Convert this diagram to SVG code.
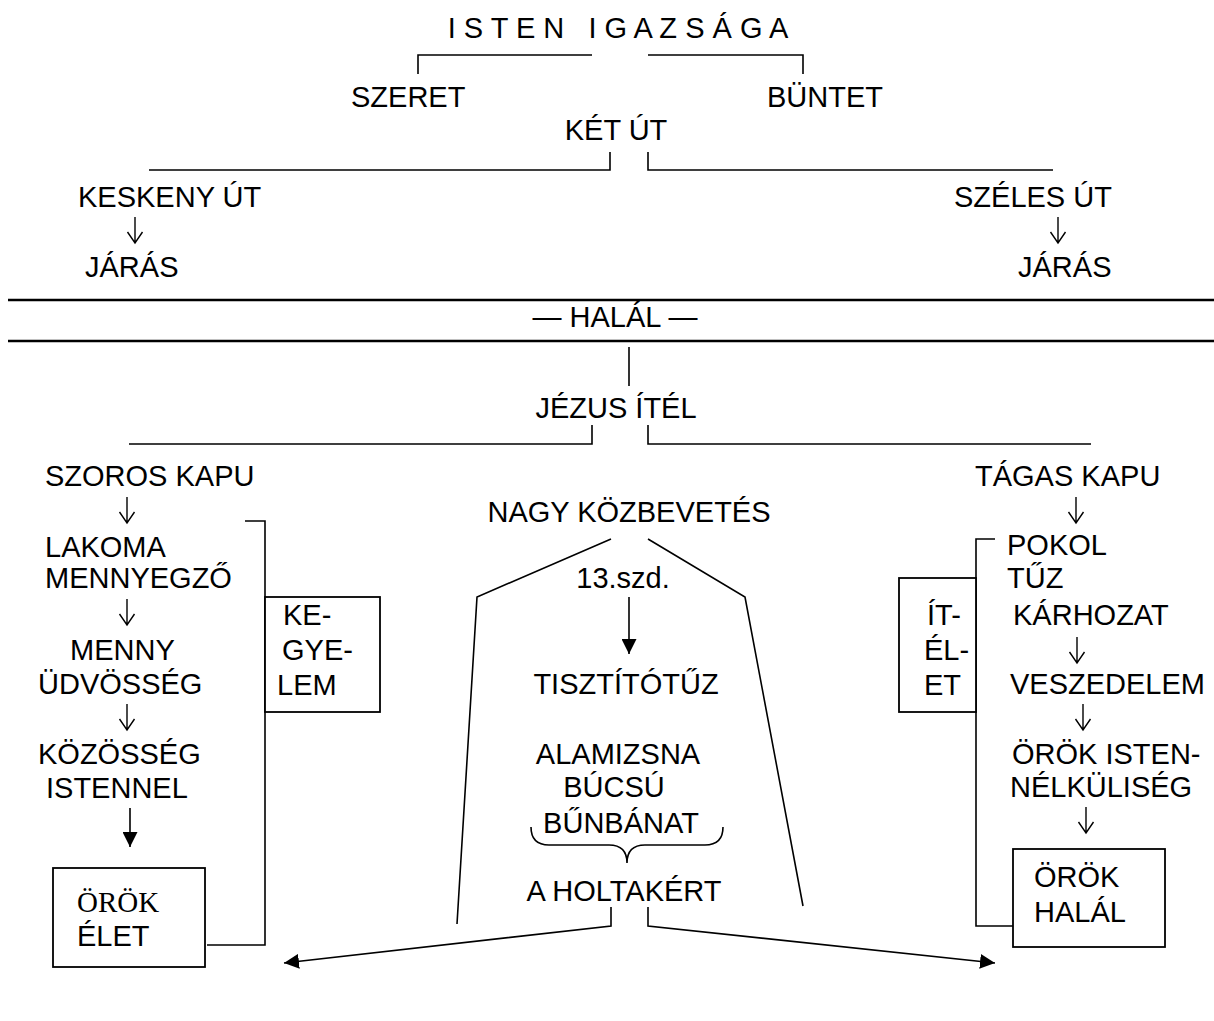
<svg xmlns="http://www.w3.org/2000/svg" width="1214" height="1021" viewBox="0 0 1214 1021">
<style>
text{font-family:"Liberation Sans",Arial,sans-serif;font-size:29px;fill:#000}
.serif{font-family:"Liberation Serif","Times New Roman",serif}
.ln{fill:none;stroke:#000;stroke-width:1.6}
.thin{fill:none;stroke:#000;stroke-width:1.4}
.thick{fill:none;stroke:#000;stroke-width:2.6}
.box{fill:#fff;stroke:#000;stroke-width:1.8}
</style>
<defs>
<marker id="ahBig" viewBox="0 0 10 10" refX="10" refY="5" markerWidth="15" markerHeight="15" markerUnits="userSpaceOnUse" orient="auto">
<path d="M0,0 L10,5 L0,10 z" fill="#000"/>
</marker>
<path id="down" class="thin" d="M0,0 V26 M-7.5,15 L0,26 L7.5,15"/>
</defs>
<rect width="1214" height="1021" fill="#fff"/>

<g id="connectors">
<path class="ln" d="M418,74 V55 H592"/>
<path class="ln" d="M648,55 H803 V74"/>
<path class="ln" d="M149,170 H610 V152"/>
<path class="ln" d="M648,152 V170 H1053"/>
<line class="thick" x1="8" y1="300" x2="1214" y2="300"/>
<line class="thick" x1="8" y1="341" x2="1214" y2="341"/>
<line class="ln" x1="629" y1="347" x2="629" y2="386"/>
<path class="ln" d="M129,444 H592 V425"/>
<path class="ln" d="M648,425 V444 H1091"/>
<path class="ln" d="M245,521 H265 V945 H207"/>
<path class="ln" d="M995,539 H976 V926 H1013"/>
<path class="ln" d="M611,539 L477,597 L457,924"/>
<path class="ln" d="M648,539 L745,597 L803,906"/>
<line class="ln" x1="629" y1="597" x2="629" y2="654" marker-end="url(#ahBig)"/>
<line class="ln" x1="130" y1="808" x2="130" y2="847" marker-end="url(#ahBig)"/>
<path class="ln" d="M611,907 V926 L284,963" marker-end="url(#ahBig)"/>
<path class="ln" d="M648,907 V926 L995,963" marker-end="url(#ahBig)"/>
<path class="ln" d="M531,827 Q531,845 549,845 L609,845 Q627,845 627,863 Q627,845 645,845 L705,845 Q723,845 723,827"/>
<use href="#down" x="135" y="217"/>
<use href="#down" x="1058" y="217"/>
<use href="#down" x="127" y="497"/>
<use href="#down" x="127" y="599"/>
<use href="#down" x="127" y="704"/>
<use href="#down" x="1076" y="497"/>
<use href="#down" x="1077" y="637"/>
<use href="#down" x="1083" y="704"/>
<use href="#down" x="1086" y="807"/>
</g>

<g id="title"><text x="618" y="38" text-anchor="middle" xml:space="preserve">I S T E N   I G A Z S Á G A</text></g>
<g id="szeret"><text x="351" y="107">SZERET</text></g>
<g id="buntet"><text x="767" y="107">BÜNTET</text></g>
<g id="ket-ut"><text x="616" y="140" text-anchor="middle">KÉT ÚT</text></g>
<g id="keskeny"><text x="78" y="207">KESKENY ÚT</text><text x="85" y="277">JÁRÁS</text></g>
<g id="szeles"><text x="954" y="207">SZÉLES ÚT</text><text x="1018" y="277">JÁRÁS</text></g>
<g id="halal"><text x="615" y="327" text-anchor="middle">— HALÁL —</text></g>
<g id="jezus"><text x="616" y="418" text-anchor="middle">JÉZUS ÍTÉL</text></g>

<g id="szoros">
<text x="45" y="486">SZOROS KAPU</text>
<text x="45" y="557">LAKOMA</text>
<text x="45" y="588">MENNYEGZŐ</text>
<text x="70" y="660">MENNY</text>
<text x="38" y="694">ÜDVÖSSÉG</text>
<text x="38" y="764">KÖZÖSSÉG</text>
<text x="46" y="798">ISTENNEL</text>
</g>
<g id="kegyelem">
<rect class="box" x="265" y="597" width="115" height="115"/>
<text x="283" y="625">KE-</text>
<text x="282" y="660">GYE-</text>
<text x="277" y="695">LEM</text>
</g>
<g id="orok-elet">
<rect class="box" x="53" y="868" width="152" height="99"/>
<text class="serif" x="77" y="912">ÖRÖK</text>
<text x="77" y="946">ÉLET</text>
</g>

<g id="kozbevetes">
<text x="629" y="522" text-anchor="middle">NAGY KÖZBEVETÉS</text>
<text x="623" y="588" text-anchor="middle">13.szd.</text>
<text x="626" y="694" text-anchor="middle">TISZTÍTÓTŰZ</text>
<text x="618" y="764" text-anchor="middle">ALAMIZSNA</text>
<text x="614" y="797" text-anchor="middle">BÚCSÚ</text>
<text x="621" y="833" text-anchor="middle">BŰNBÁNAT</text>
<text x="624" y="901" text-anchor="middle">A HOLTAKÉRT</text>
</g>

<g id="tagas">
<text x="975" y="486">TÁGAS KAPU</text>
<text x="1007" y="555">POKOL</text>
<text x="1007" y="588">TŰZ</text>
<text x="1013" y="625">KÁRHOZAT</text>
<text x="1010" y="694">VESZEDELEM</text>
<text x="1012" y="764">ÖRÖK ISTEN-</text>
<text x="1010" y="797">NÉLKÜLISÉG</text>
</g>
<g id="itelet">
<rect class="box" x="899" y="578" width="77" height="134"/>
<text x="927" y="625">ÍT-</text>
<text x="924" y="660">ÉL-</text>
<text x="924" y="695">ET</text>
</g>
<g id="orok-halal">
<rect class="box" x="1013" y="849" width="152" height="98"/>
<text x="1034" y="887">ÖRÖK</text>
<text x="1034" y="922">HALÁL</text>
</g>
</svg>
